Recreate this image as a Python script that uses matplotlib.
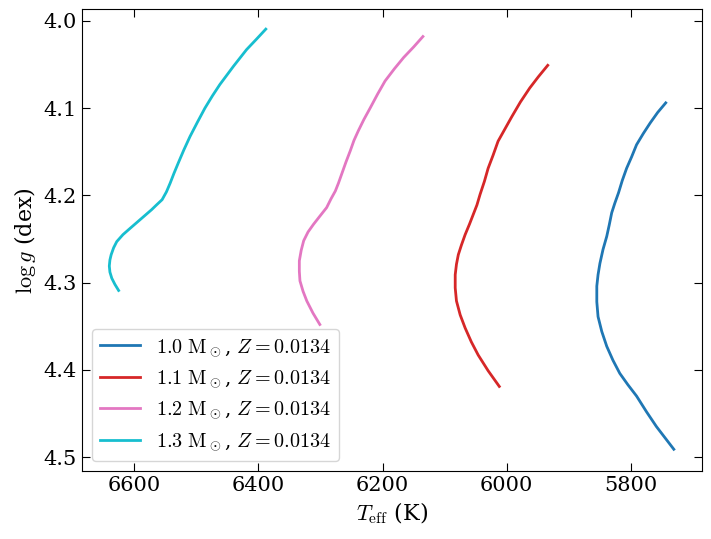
import numpy as np
import matplotlib
matplotlib.use("Agg")
import matplotlib.pyplot as plt

plt.rcParams['font.family'] = 'serif'
plt.rcParams['font.serif'] = ['DejaVu Serif']
plt.rcParams['mathtext.fontset'] = 'cm'

# tracks (Teff in K, log g in dex)
teff_10 = [5731, 5745, 5759, 5775, 5791, 5805, 5818, 5829, 5839, 5847, 5853, 5855, 5855, 5853, 5850, 5845,
           5839, 5835, 5831, 5826, 5820, 5814, 5807, 5799, 5791, 5780, 5769, 5757, 5744]
logg_10 = [4.491, 4.478, 4.465, 4.448, 4.430, 4.417, 4.404, 4.389, 4.373, 4.356, 4.339, 4.322, 4.304, 4.291,
           4.278, 4.262, 4.247, 4.234, 4.220, 4.209, 4.197, 4.183, 4.169, 4.156, 4.142, 4.129, 4.117, 4.105, 4.094]

teff_11 = [6012, 6030, 6046, 6057, 6067, 6075, 6081, 6083, 6083, 6081, 6078, 6073, 6067, 6060, 6054, 6048,
           6043, 6036, 6030, 6022, 6014, 6003, 5992, 5978, 5963, 5949, 5934]
logg_11 = [4.419, 4.401, 4.383, 4.368, 4.352, 4.337, 4.321, 4.306, 4.291, 4.279, 4.268, 4.257, 4.245, 4.233,
           4.222, 4.211, 4.199, 4.184, 4.169, 4.154, 4.138, 4.124, 4.110, 4.093, 4.077, 4.064, 4.051]

teff_12 = [6301, 6312, 6322, 6328, 6333, 6334, 6334, 6331, 6327, 6320, 6311, 6300, 6290, 6283, 6276, 6271,
           6266, 6259, 6252, 6246, 6239, 6230, 6220, 6208, 6196, 6181, 6166, 6150, 6135]
logg_12 = [4.348, 4.335, 4.321, 4.310, 4.298, 4.287, 4.275, 4.263, 4.252, 4.242, 4.233, 4.223, 4.214, 4.204,
           4.195, 4.186, 4.176, 4.162, 4.149, 4.137, 4.126, 4.113, 4.100, 4.084, 4.069, 4.055, 4.042, 4.030, 4.018]

teff_13 = [6625, 6631, 6636, 6639, 6640, 6639, 6637, 6633, 6628, 6618, 6606, 6589, 6572, 6564, 6555, 6548,
           6542, 6536, 6529, 6520, 6510, 6498, 6486, 6474, 6462, 6440, 6419, 6403, 6388]
logg_13 = [4.309, 4.302, 4.295, 4.288, 4.281, 4.274, 4.268, 4.260, 4.253, 4.245, 4.2375, 4.227, 4.2165, 4.211,
           4.205, 4.196, 4.186, 4.175, 4.163, 4.148, 4.1325, 4.116, 4.100, 4.086, 4.073, 4.052, 4.033, 4.021, 4.0095]

masses = ['1.0', '1.1', '1.2', '1.3']
metallicity = '0.0134'
colors = ['tab:blue', 'tab:red', 'tab:pink', 'tab:cyan']

fig = plt.figure(figsize=(7.11, 5.39), dpi=100)
ax = fig.add_axes([0.1153, 0.126, 0.8717, 0.8564])

tracks = [(teff_10, logg_10), (teff_11, logg_11), (teff_12, logg_12), (teff_13, logg_13)]
for (t, g), m, c in zip(tracks, masses, colors):
    ax.plot(t, g, color=c, lw=2, solid_joinstyle='round',
            label=r'$%s\ \mathrm{M}_\odot$, $Z=%s$' % (m, metallicity))

ax.set_xlim(6684, 5686)
ax.set_ylim(4.516, 3.987)
ax.set_xticks([6600, 6400, 6200, 6000, 5800])
ax.set_yticks([4.0, 4.1, 4.2, 4.3, 4.4, 4.5])
ax.tick_params(direction='in', top=True, right=True, labelsize=15, length=6)
ax.set_xlabel(r'$T_{\rm eff}$ (K)', fontsize=16)
ax.set_ylabel(r'$\log g$ (dex)', fontsize=16)
ax.legend(loc='lower left', fontsize=14.5)

fig.savefig('out.png', dpi=100)
